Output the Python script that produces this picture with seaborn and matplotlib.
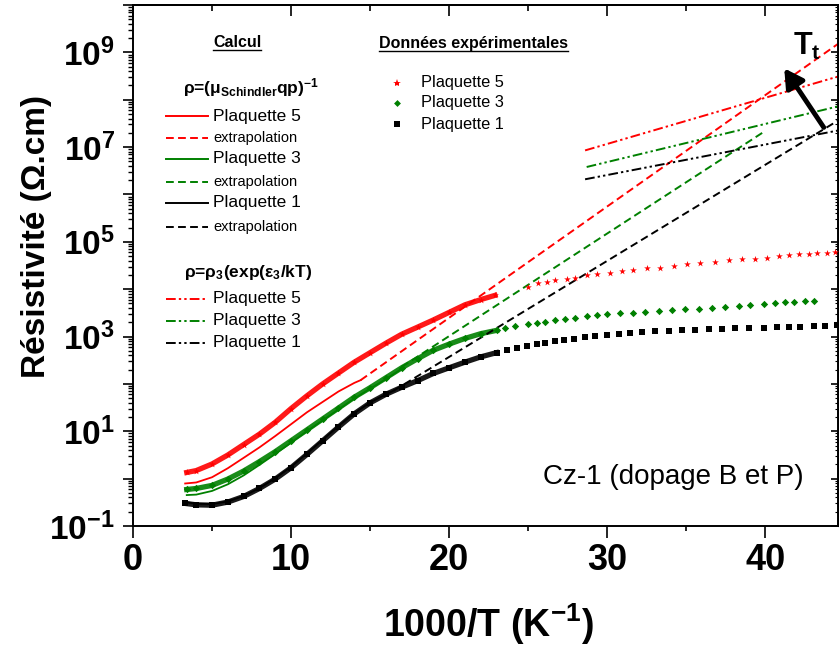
import numpy as np
import matplotlib
matplotlib.use("Agg")
import matplotlib.pyplot as plt
import seaborn as sns
from matplotlib.lines import Line2D
from matplotlib.ticker import LogLocator, FuncFormatter, MultipleLocator, NullFormatter

W, H = 839, 649

# ── Plaquette 5 ─────────────────────────────────────────────
p5_exp_x = [3.4, 4, 5, 6, 7, 8, 9, 10, 11, 12, 13, 14, 15, 16, 17, 18, 19, 20, 21, 22, 22.9]
p5_exp_rho = [1.35, 1.48, 2.04, 3.16, 5.25, 8.7, 15.5, 30.2, 56, 100, 170, 288, 457, 724,
              1120, 1580, 2240, 3240, 4680, 6030, 7410]
p5_sparse_x = [25.02, 25.65, 26.18, 26.71, 27.45, 27.97, 28.71, 29.35, 30.19, 30.93, 31.66,
               32.51, 33.35, 34.2, 35.04, 35.89, 36.84, 37.68, 38.52, 39.37, 40.1, 40.84,
               41.48, 42.11, 42.74, 43.27, 43.9, 44.43]
p5_sparse_rho = [11000, 13200, 14300, 15500, 16800, 17600, 19700, 21400, 22100, 24400, 25100,
                 27400, 28200, 30900, 33700, 35900, 37700, 40700, 42400, 44400, 46600, 49700,
                 52100, 54700, 56500, 58300, 59400, 61200]
p5_calc_x = [3.3, 4, 5, 6, 7, 8, 9, 10, 11, 12, 13, 14, 14.4]
p5_calc_rho = [0.79, 0.83, 1.07, 1.66, 2.75, 4.57, 7.94, 14.1, 25.1, 41.7, 69.2, 105, 120]
p5_extra_x = [14.4, 44.6]
p5_extra_rho = [120, 1.51e9]
p5_rho3_x = [28.6, 44.6]
p5_rho3_rho = [8.51e6, 3.09e8]

# ── Plaquette 3 ─────────────────────────────────────────────
p3_exp_x = [3.4, 4, 5, 6, 7, 8, 9, 10, 11, 12, 13, 14, 15, 16, 17, 18, 19, 20, 21, 22, 23]
p3_exp_rho = [0.59, 0.62, 0.72, 0.98, 1.45, 2.29, 3.72, 6.31, 10.7, 18.2, 30.9, 52.5, 83.2,
              135, 219, 339, 513, 692, 912, 1150, 1350]
p3_sparse_x = [23.54, 24.18, 25.02, 25.55, 26.08, 26.71, 27.34, 27.97, 28.71, 29.35, 29.98,
               30.82, 31.66, 32.41, 33.25, 34.09, 34.94, 35.78, 36.62, 37.47, 38.31, 39.05,
               39.89, 40.63, 41.27, 41.79, 42.53, 43.06]
p3_sparse_rho = [1480, 1660, 1820, 1950, 2040, 2240, 2340, 2510, 2690, 2820, 2950, 3090, 3160,
                 3310, 3470, 3630, 3800, 3890, 4070, 4270, 4370, 4570, 4790, 5010, 5250, 5370,
                 5500, 5620]
p3_calc_x = [3.4, 4, 5, 6, 7, 8, 9, 10, 11, 12, 13, 14, 15, 16, 17]
p3_calc_rho = [0.45, 0.46, 0.55, 0.76, 1.17, 1.95, 3.31, 5.75, 10.0, 17.0, 28.8, 49.0, 79.4,
               126, 209]
p3_extra_x = [17.0, 39.9]
p3_extra_rho = [229, 2.09e7]
p3_rho3_x = [28.7, 44.6]
p3_rho3_rho = [3.80e6, 7.24e7]

# ── Plaquette 1 ─────────────────────────────────────────────
p1_exp_x = [3.3, 4, 5, 6, 7, 8, 9, 10, 11, 12, 13, 14, 15, 16, 17, 18, 19, 20, 21, 22, 23]
p1_exp_rho = [0.30, 0.28, 0.275, 0.32, 0.42, 0.62, 0.98, 1.70, 3.24, 6.31, 12.3, 23.4, 39.8,
              60.3, 85.1, 117, 166, 219, 288, 372, 457]
p1_sparse_x = [23.65, 24.28, 24.92, 25.55, 26.08, 26.71, 27.24, 27.87, 28.61, 29.24, 29.98,
               30.72, 31.46, 32.2, 33.04, 33.88, 34.73, 35.57, 36.41, 37.26, 38.1, 38.94,
               39.89, 40.74, 41.48, 42.22, 43.06, 43.8, 44.54]
p1_sparse_rho = [516, 578, 631, 692, 741, 794, 832, 891, 955, 1020, 1100, 1150, 1200, 1230,
                 1290, 1320, 1350, 1380, 1410, 1450, 1480, 1510, 1550, 1580, 1620, 1620, 1660,
                 1700, 1740]
p1_calc_x = [3.3, 4, 5, 6, 7, 8, 9, 10, 11, 12, 13, 14, 15, 16, 16.5]
p1_calc_rho = [0.32, 0.295, 0.29, 0.33, 0.43, 0.63, 1.02, 1.78, 3.39, 6.61, 12.9, 24.0, 40.7,
               60.3, 72.4]
p1_extra_x = [16.5, 44.6]
p1_extra_rho = [72.4, 3.63e7]
p1_rho3_x = [28.6, 44.6]
p1_rho3_rho = [2.09e6, 2.24e7]

RED, GREEN, BLACK = "#ff0000", "#008000", "#000000"
DASH = (0, (4, 2.2))
DDOT = (0, (5, 1.6, 1.2, 1.6, 1.2, 1.6))

plt.rcParams["font.family"] = ["Liberation Sans", "DejaVu Sans"]
plt.rcParams["font.weight"] = "bold"
plt.rcParams["axes.labelweight"] = "bold"
plt.rcParams["mathtext.fontset"] = "custom"
plt.rcParams["mathtext.rm"] = "Liberation Sans"
plt.rcParams["mathtext.it"] = "Liberation Sans:italic"
plt.rcParams["mathtext.bf"] = "Liberation Sans:bold"


def fx(px):
    return px / W


def fy(py):
    return 1 - py / H


fig = plt.figure(figsize=(W / 100, H / 100), dpi=100)
ax = fig.add_axes([133 / W, 1 - 526 / H, 705 / W, 521 / H])
ax.set_yscale("log")

samples = [
    (RED, "*", 26, p5_exp_x, p5_exp_rho, p5_sparse_x, p5_sparse_rho, p5_calc_x, p5_calc_rho,
     p5_extra_x, p5_extra_rho, p5_rho3_x, p5_rho3_rho),
    (GREEN, "D", 14, p3_exp_x, p3_exp_rho, p3_sparse_x, p3_sparse_rho, p3_calc_x, p3_calc_rho,
     p3_extra_x, p3_extra_rho, p3_rho3_x, p3_rho3_rho),
    (BLACK, "s", 14, p1_exp_x, p1_exp_rho, p1_sparse_x, p1_sparse_rho, p1_calc_x, p1_calc_rho,
     p1_extra_x, p1_extra_rho, p1_rho3_x, p1_rho3_rho),
]

for (c, mk, ms, ex, ey, sx, sy, cx, cy, xx, xy, rx, ry) in samples:
    # dense measurement band
    sns.lineplot(x=ex, y=ey, ax=ax, color=c, lw=3.8, alpha=0.9)
    sns.scatterplot(x=ex + sx, y=ey + sy, ax=ax, color=c, marker=mk, s=ms,
                    linewidth=0, zorder=3)
    # Schindler calculation + extrapolation
    sns.lineplot(x=cx, y=cy, ax=ax, color=c, lw=1.3)
    sns.lineplot(x=xx, y=xy, ax=ax, color=c, lw=1.4, linestyle=DASH)
    # rho3 exp(eps3/kT)
    sns.lineplot(x=rx, y=ry, ax=ax, color=c, lw=1.4, linestyle=DDOT)

ax.set_xlim(0, 44.6)
ax.set_ylim(1e-1, 1e10)
for s in ax.spines.values():
    s.set_linewidth(1.4)

ax.xaxis.set_major_locator(MultipleLocator(10))
ax.xaxis.set_minor_locator(MultipleLocator(5))
ax.yaxis.set_major_locator(LogLocator(base=10, numticks=20))
ax.yaxis.set_minor_locator(LogLocator(base=10, subs=np.arange(2, 10), numticks=20))
ax.yaxis.set_minor_formatter(NullFormatter())


def ylab(v, pos):
    e = int(round(np.log10(v)))
    return f"10$^{{\\mathbf{{{e}}}}}$" if e % 2 else ""


ax.yaxis.set_major_formatter(FuncFormatter(ylab))
ax.tick_params(axis="x", which="major", direction="out", length=8.5, width=1.2,
               labelsize=26, pad=4)
ax.tick_params(axis="x", which="minor", direction="out", length=3.8, width=1.2)
ax.tick_params(axis="y", which="major", direction="out", length=7, width=1.2,
               labelsize=24, pad=6)
ax.tick_params(axis="y", which="minor", direction="out", length=3.5, width=1.0)

top = ax.secondary_xaxis("top")
top.xaxis.set_major_locator(MultipleLocator(10))
top.xaxis.set_minor_locator(MultipleLocator(5))
top.xaxis.set_major_formatter(NullFormatter())
top.tick_params(which="major", direction="in", length=8, width=1.2)
top.tick_params(which="minor", direction="in", length=4, width=1.2)
top.spines["top"].set_linewidth(1.4)

right = ax.secondary_yaxis("right")
right.yaxis.set_major_locator(LogLocator(base=10, numticks=20))
right.yaxis.set_minor_locator(LogLocator(base=10, subs=np.arange(2, 10), numticks=20))
right.yaxis.set_major_formatter(NullFormatter())
right.yaxis.set_minor_formatter(NullFormatter())
right.tick_params(which="major", direction="in", length=5, width=1.2)
right.tick_params(which="minor", direction="in", length=2, width=0.8)

ax.set_xlabel("1000/T (K$^{\\mathbf{-1}}$)", fontsize=27)
ax.xaxis.set_label_coords(0.504, -0.145)
ax.set_ylabel("Résistivité (Ω.cm)", fontsize=24)
ax.yaxis.set_label_coords(-0.115, 0.555)

# T_t arrow
ax.annotate("", xy=(41.2, 4.6e8), xytext=(43.7, 2.6e7),
            arrowprops=dict(arrowstyle="-|>,head_length=0.8,head_width=0.45",
                            lw=3.5, color="k", mutation_scale=14, shrinkA=0, shrinkB=0))
ax.text(41.77, 8.7e8, "T$_{\\mathbf{t}}$", fontsize=22, va="baseline")

ax.text(fx(543), fy(477), "Cz-1 (dopage B et P)", transform=fig.transFigure,
        fontsize=20, fontweight="normal", va="center", ha="left")

# ── hand-made legends ───────────────────────────────────────
heads = [
    fig.text(fx(213), fy(47), "Calcul", fontsize=11.5, va="baseline"),
    fig.text(fx(379), fy(48), "Données expérimentales", fontsize=11.5, va="baseline"),
]
fig.text(fx(251), fy(88), "ρ=(μ$_{\\mathbf{Schindler}}$qp)$^{\\mathbf{-1}}$", fontsize=12.5,
         va="center", ha="center")
fig.text(fx(248), fy(272), "ρ=ρ$_{\\mathbf{3}}$(exp(ε$_{\\mathbf{3}}$/kT)", fontsize=12.5,
         va="center", ha="center")

calc_rows = [
    (116, RED, "-", "Plaquette 5", 12.5),
    (138, RED, DASH, "extrapolation", 10.5),
    (159, GREEN, "-", "Plaquette 3", 12.5),
    (182, GREEN, DASH, "extrapolation", 10.5),
    (203, BLACK, "-", "Plaquette 1", 12.5),
    (227, BLACK, DASH, "extrapolation", 10.5),
    (299, RED, DDOT, "Plaquette 5", 12.5),
    (321, GREEN, DDOT, "Plaquette 3", 12.5),
    (343, BLACK, DDOT, "Plaquette 1", 12.5),
]
for y, c, ls, lab, fs in calc_rows:
    fig.add_artist(Line2D([fx(166), fx(208)], [fy(y), fy(y)], color=c, lw=1.4, ls=ls))
    fig.text(fx(213), fy(y), lab, fontsize=fs, fontweight="normal", va="center")

exp_rows = [(83, RED, "*", 6), (103, GREEN, "D", 3.5), (124, BLACK, "s", 3.8)]
for (y, c, mk, ms), lab in zip(exp_rows, ["Plaquette 5", "Plaquette 3", "Plaquette 1"]):
    fig.add_artist(Line2D([fx(397)], [fy(y)], color=c, marker=mk, ms=ms, ls="none",
                          markeredgewidth=0))
    fig.text(fx(421), fy(y), lab, fontsize=11.8, fontweight="normal", va="center")

# underline the two headings
fig.canvas.draw()
r = fig.canvas.get_renderer()
for t, yb in zip(heads, [49.5, 50.5]):
    bb = t.get_window_extent(r)
    fig.add_artist(Line2D([bb.x0 / W, bb.x1 / W], [fy(yb), fy(yb)], color="k", lw=1.0))

fig.savefig("out.png", dpi=100)
